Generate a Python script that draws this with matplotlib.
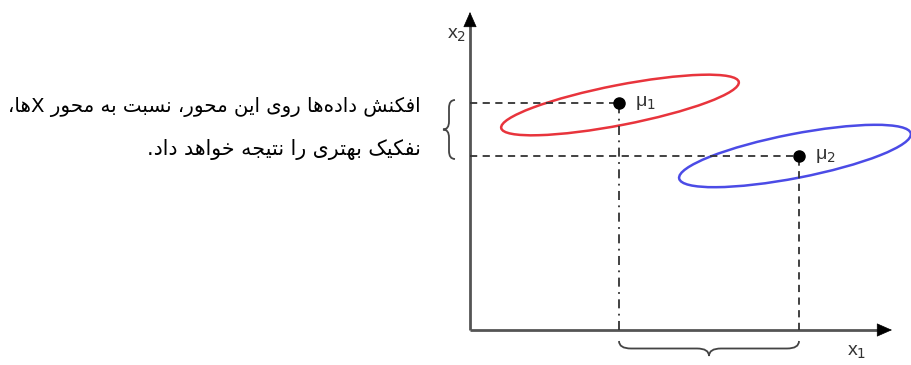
import matplotlib
matplotlib.use("Agg")
import matplotlib.pyplot as plt
from matplotlib.patches import Ellipse, PathPatch
from matplotlib.path import Path

# ---------------- data (origin = where the two axes meet) ----------------
mu1 = (149, 227)
mu2 = (329, 174)
ellipse_centers = [(150, 225), (325, 174)]
ellipse_widths = [242, 236]
ellipse_heights = [40, 44]
ellipse_angles = [11, 11]
ellipse_colors = ["#e8343c", "#4b4be6"]
mu_labels = ["μ$_1$", "μ$_2$"]
axis_labels = ["x$_1$", "x$_2$"]
x_axis_end = 422
y_axis_end = 318
text_lines = ["افکنش داده\u200cها روی این محور، نسبت به محور Xها،",
              "نفکیک بهتری را نتیجه خواهد داد."]

# ---------------- minimal Persian shaping (presentation forms) ----------------
FORMS = {
    'ا': (0xFE8D, 0xFE8E, None, None),
    'ب': (0xFE8F, 0xFE90, 0xFE91, 0xFE92),
    'ت': (0xFE95, 0xFE96, 0xFE97, 0xFE98),
    'ج': (0xFE9D, 0xFE9E, 0xFE9F, 0xFEA0),
    'ح': (0xFEA1, 0xFEA2, 0xFEA3, 0xFEA4),
    'خ': (0xFEA5, 0xFEA6, 0xFEA7, 0xFEA8),
    'د': (0xFEA9, 0xFEAA, None, None),
    'ر': (0xFEAD, 0xFEAE, None, None),
    'س': (0xFEB1, 0xFEB2, 0xFEB3, 0xFEB4),
    'ش': (0xFEB5, 0xFEB6, 0xFEB7, 0xFEB8),
    'ف': (0xFED1, 0xFED2, 0xFED3, 0xFED4),
    'ل': (0xFEDD, 0xFEDE, 0xFEDF, 0xFEE0),
    'م': (0xFEE1, 0xFEE2, 0xFEE3, 0xFEE4),
    'ن': (0xFEE5, 0xFEE6, 0xFEE7, 0xFEE8),
    'ه': (0xFEE9, 0xFEEA, 0xFEEB, 0xFEEC),
    'و': (0xFEED, 0xFEEE, None, None),
    'ی': (0xFBFC, 0xFBFD, 0xFBFE, 0xFBFF),
    'ک': (0xFB8E, 0xFB8F, 0xFB90, 0xFB91),
}


def dual(c):
    return c in FORMS and FORMS[c][2] is not None


def shape(s):
    out = []
    n = len(s)
    for i, c in enumerate(s):
        if c not in FORMS:
            if c != '\u200c':
                out.append(c)
            continue
        prev_j = i > 0 and dual(s[i - 1])
        next_j = dual(c) and i + 1 < n and s[i + 1] in FORMS
        iso, fin, ini, med = FORMS[c]
        if prev_j and next_j:
            g = med
        elif prev_j:
            g = fin
        elif next_j:
            g = ini
        else:
            g = iso
        out.append(chr(g))
    return ''.join(reversed(out))


def brace_path(a0, a1, base, depth, vertical=False, q=12):
    half = depth / 2.0
    m = (a0 + a1) / 2.0
    pts = [(a0, base), (a0, base - half), (a0 + q, base - half),
           (m - q, base - half), (m, base - half), (m, base - depth),
           (m, base - half), (m + q, base - half),
           (a1 - q, base - half), (a1, base - half), (a1, base)]
    codes = [Path.MOVETO, Path.CURVE3, Path.CURVE3, Path.LINETO,
             Path.CURVE3, Path.CURVE3, Path.CURVE3, Path.CURVE3,
             Path.LINETO, Path.CURVE3, Path.CURVE3]
    if vertical:
        pts = [(b, a) for a, b in pts]
    return Path(pts, codes)


fig = plt.figure(figsize=(9.12, 3.65), dpi=100)
ax = fig.add_axes([0, 0, 1, 1])
ax.set_xlim(-470, 442)
ax.set_ylim(-35, 330)
ax.axis("off")

# axes with arrows
ax.plot([0, x_axis_end - 12], [0, 0], color="#555555", lw=2, solid_capstyle="butt")
ax.plot([0, 0], [0, y_axis_end - 12], color="#555555", lw=2, solid_capstyle="butt")
for tip, tail in [((x_axis_end, 0), (x_axis_end - 14, 0)),
                  ((0, y_axis_end), (0, y_axis_end - 14))]:
    ax.annotate("", xy=tip, xytext=tail,
                arrowprops=dict(arrowstyle="-|>,head_length=0.5,head_width=0.22",
                                mutation_scale=20, color="black", lw=0.5,
                                shrinkA=0, shrinkB=0))

# ellipses
for c, w, h, a, col in zip(ellipse_centers, ellipse_widths, ellipse_heights,
                           ellipse_angles, ellipse_colors):
    ax.add_patch(Ellipse(c, w, h, angle=a, fill=False, edgecolor=col, lw=1.8))

# projection lines
dash = (0, (4, 3))
ax.plot([0, mu1[0]], [mu1[1], mu1[1]], color="#333333", lw=1.3, linestyle=dash)
ax.plot([0, mu2[0]], [mu2[1], mu2[1]], color="#333333", lw=1.3, linestyle=dash)
ax.plot([mu1[0], mu1[0]], [0, mu1[1]], color="#333333", lw=1.3,
        linestyle=(0, (5, 3, 1, 3)))
ax.plot([mu2[0], mu2[0]], [0, mu2[1]], color="#333333", lw=1.3, linestyle=dash)

# means
for m, lab in zip([mu1, mu2], mu_labels):
    ax.plot(m[0], m[1], "o", color="black", markersize=8, zorder=5)
    ax.text(m[0] + 16, m[1], lab, fontsize=14, color="#333333",
            ha="left", va="center", family="Liberation Sans")

# axis labels
ax.text(387, -22, axis_labels[0], fontsize=14, color="#333333", ha="center",
        va="center", family="Liberation Sans")
ax.text(-13, 295, axis_labels[1], fontsize=14, color="#333333", ha="center",
        va="center", family="Liberation Sans")

# braces
ax.add_patch(PathPatch(brace_path(mu1[0], mu2[0], -11, 15), fill=False,
                       edgecolor="#444444", lw=1.3))
ax.add_patch(PathPatch(brace_path(mu2[1] - 3, mu1[1] + 3, -15, 12, vertical=True,
                                  q=8),
                       fill=False, edgecolor="#444444", lw=1.3))

# Persian annotation text
ax.text(-49, 223, shape(text_lines[0]), fontsize=14.2, ha="right", va="center",
        family="DejaVu Sans", color="black")
ax.text(-49, 181, shape(text_lines[1]), fontsize=14.8, ha="right", va="center",
        family="DejaVu Sans", color="black")

fig.savefig("out.png", dpi=100)
